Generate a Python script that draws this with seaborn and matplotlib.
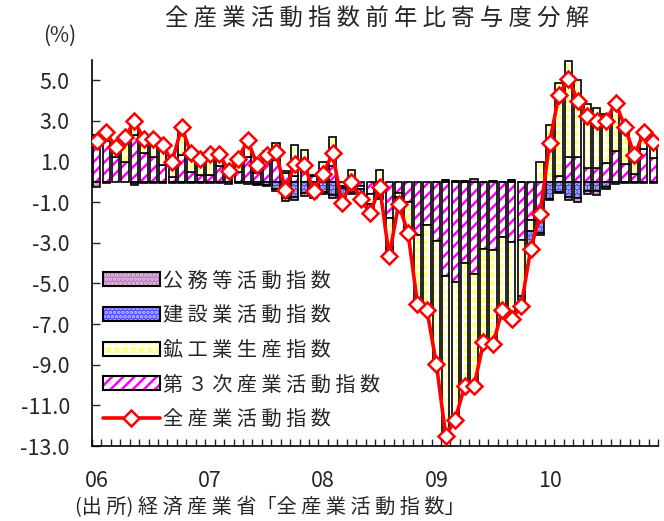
import matplotlib
matplotlib.use('Agg')
import matplotlib.pyplot as plt
from matplotlib.patches import Patch
from matplotlib.lines import Line2D
from matplotlib.legend_handler import HandlerTuple
import seaborn as sns
import numpy as np

# 2006/01 - 2010/12 前年比寄与度 (%)
third = [1.70, 2.00, 1.25, 1.00, 2.30, 1.40, 1.25, 0.85, 0.25, 1.30, 0.50, 0.35,
         0.35, 0.80, 0.30, 0.50, 1.25, 0.45, 1.10, 1.10, 0.45, 0.30, 0.50, 0.30,
         0.50, 0.80, -0.20, 0.05, -0.20, -0.60, -0.40, -1.80, -0.55, -1.00, -2.60, -2.10,
         -2.90, -4.65, -4.95, -4.00, -4.55, -3.30, -3.35, -2.70, -2.95, -2.85, -1.90, -1.90,
         0.00, 0.30, 1.25, 1.25, 0.70, 0.70, 0.95, 1.50, 0.90, 0.40, 1.60, 1.20]
mining = [0.60, 0.50, 0.45, 1.20, 0.85, 0.75, 0.90, 1.00, 0.80, 1.45, 0.95, 0.85,
          1.05, 0.60, 0.35, 0.70, 0.90, 0.55, 0.40, 0.80, 0.10, 1.50, 1.05, 0.05,
          0.50, 1.40, -0.10, 0.55, -0.15, -0.50, 0.60, -1.45, -0.20, -1.25, -3.30, -4.10,
          -6.00, -7.85, -6.75, -6.05, -5.55, -4.60, -4.65, -3.60, -3.85, -2.75, -0.50, 1.00,
          2.80, 4.55, 4.70, 3.75, 3.15, 2.95, 2.40, 2.50, 1.85, 0.95, 0.90, 0.80]
constr = [0.00, 0.00, 0.00, 0.00, -0.05, -0.05, -0.05, -0.05, -0.05, -0.05, -0.05, -0.05,
          -0.05, -0.05, -0.10, -0.05, -0.10, -0.10, -0.15, -0.35, -0.80, -0.75, -0.55, -0.65,
          -0.50, -0.65, -0.60, -0.50, -0.40, -0.35, -0.35, -0.30, -0.25, -0.15, -0.05, -0.05,
          -0.05, 0.10, 0.05, 0.05, 0.00, 0.00, 0.05, 0.00, 0.10, -0.50, -0.80, -0.60,
          -0.85, -0.50, -0.75, -0.80, -0.45, -0.45, -0.25, -0.10, -0.05, -0.05, -0.05, -0.05]
public = [-0.25, -0.05, 0.00, 0.00, -0.10, 0.00, 0.00, 0.00, 0.00, 0.00, 0.00, 0.00,
          0.00, 0.00, 0.00, 0.00, 0.00, -0.05, -0.05, -0.10, -0.15, -0.15, -0.15, -0.15,
          -0.10, -0.15, -0.15, -0.10, -0.10, -0.10, -0.10, -0.10, -0.10, -0.10, -0.05, -0.05,
          0.00, 0.00, 0.00, 0.00, 0.15, 0.00, 0.00, 0.00, 0.00, 0.00, -0.10, -0.10,
          -0.05, -0.05, -0.15, -0.20, -0.15, -0.20, -0.10, 0.00, 0.00, 0.00, 0.00, 0.00]
total = [2.00, 2.45, 1.70, 2.20, 3.00, 2.10, 2.10, 1.80, 1.00, 2.70, 1.40, 1.15,
         1.35, 1.35, 0.55, 1.15, 2.05, 0.85, 1.30, 1.45, -0.40, 0.90, 0.85, -0.45,
         0.40, 1.40, -1.05, 0.00, -0.85, -1.55, -0.25, -3.65, -1.10, -2.50, -6.00, -6.30,
         -8.95, -12.50, -11.70, -10.05, -10.05, -7.90, -8.00, -6.30, -6.75, -6.10, -3.30, -1.60,
         1.90, 4.30, 5.05, 4.00, 3.25, 3.00, 3.00, 3.90, 2.70, 1.30, 2.45, 1.95]
year_labels = ['06', '07', '08', '09', '10']

series_names = ['第３次産業活動指数', '鉱工業生産指数', '建設業活動指数', '公務等活動指数']
series_vals = [third, mining, constr, public]
# face colour, hatch, hatch colour
styles = [('white', '///', '#ff00ff'),
          ('#ffff8c', '++', 'white'),
          ('#4d4dff', '....', '#c0c0ff'),
          ('#b878b8', '....', '#e8c8e8')]

sns.set_style('ticks')
plt.rcParams['font.family'] = ['Noto Sans CJK JP', 'DejaVu Sans']
plt.rcParams['hatch.linewidth'] = 1.8

fig = plt.figure(figsize=(6.64, 5.21), dpi=100)
ax = fig.add_axes([92 / 664, 1 - 446 / 521, 566 / 664, 386 / 521])

x = np.arange(len(total))
pos_base = np.zeros(len(total))
neg_base = np.zeros(len(total))
w = 0.77
for vals, (fc, hatch, hc) in zip(series_vals, styles):
    v = np.array(vals)
    bottom = np.where(v >= 0, pos_base, neg_base)
    ax.bar(x, v, bottom=bottom, width=w, color=fc, hatch=hatch, edgecolor=hc, linewidth=0)
    ax.bar(x, v, bottom=bottom, width=w, fill=False, edgecolor='black', linewidth=1.2)
    pos_base = pos_base + np.where(v >= 0, v, 0)
    neg_base = neg_base + np.where(v < 0, v, 0)

sns.lineplot(x=x, y=total, ax=ax, color='#ff0000', linewidth=2.6, marker='D',
             markersize=8, markerfacecolor='white', markeredgecolor='#ff0000',
             markeredgewidth=1.8, zorder=5)

ax.set_xlim(-0.5, 59.5)
ax.set_ylim(-13, 6)
yt = np.arange(5, -14, -2)
ax.set_yticks(yt)
ax.set_yticklabels([f'{v:.1f}' for v in yt], fontsize=15.5)
ax.set_xticks(np.arange(0, 60, 12))
ax.set_xticklabels(year_labels, fontsize=15.5)
ax.set_xticks(np.arange(-0.5, 60, 1), minor=True)
ax.tick_params(axis='x', which='major', length=0, pad=17)
ax.tick_params(axis='x', which='minor', direction='in', length=5, width=1)
ax.tick_params(axis='y', direction='in', length=6, width=1, pad=16)
for s in ['top', 'right']:
    ax.spines[s].set_visible(False)
for s in ['left', 'bottom']:
    ax.spines[s].set_color('black')
    ax.spines[s].set_linewidth(1.2)
ax.set_xlabel('')
ax.set_ylabel('')

handles = []
labels = []
for name, (fc, hatch, hc) in reversed(list(zip(series_names, styles))):
    p1 = Patch(facecolor=fc, hatch=hatch, edgecolor=hc, linewidth=0)
    p2 = Patch(fill=False, edgecolor='black', linewidth=1.5)
    handles.append((p1, p2))
    labels.append(' '.join(name))
handles.append(Line2D([], [], color='#ff0000', linewidth=2.6, marker='D', markersize=8,
                      markerfacecolor='white', markeredgecolor='#ff0000', markeredgewidth=1.8))
labels.append(' '.join('全産業活動指数'))
ax.legend(handles, labels, handler_map={tuple: HandlerTuple(ndivide=1)},
          loc='upper left', bbox_to_anchor=(0.019, 0.455), frameon=False, fontsize=14.5,
          borderpad=0, borderaxespad=0, handlelength=2.85, handleheight=0.7,
          handletextpad=0.15, labelspacing=0.68)

fig.text(377 / 664, 1 - 19 / 521, ' '.join('全産業活動指数前年比寄与度分解'),
         ha='center', va='center', fontsize=16.8)
fig.text(60 / 664, 1 - 36 / 521, '(%)', ha='center', va='center', fontsize=15)
fig.text(75 / 664, 1 - 508 / 521, '(出 所) 経 済 産 業 省「全 産 業 活 動 指 数」',
         ha='left', va='center', fontsize=14.5)

fig.savefig('out.png', dpi=100)
